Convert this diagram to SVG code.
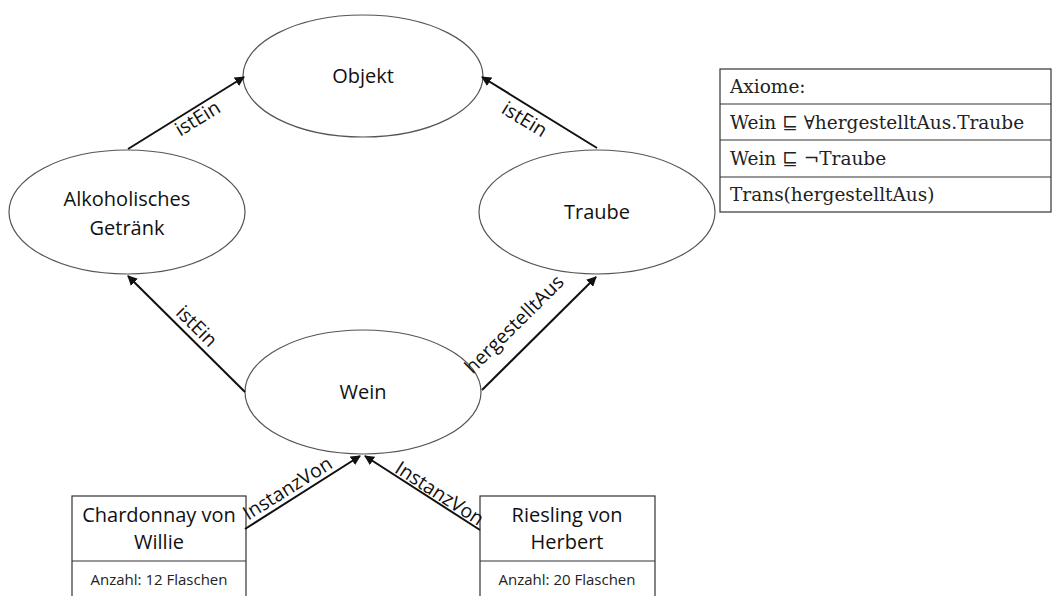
<svg xmlns="http://www.w3.org/2000/svg" width="1052" height="596" viewBox="0 0 1052 596">
<defs>
<style>
.node ellipse{fill:#fff;stroke:#555;stroke-width:1.2}
.lbl{font-family:"Open Sans","Liberation Sans",sans-serif;font-size:20px;fill:#111;text-anchor:middle}
.elbl{font-family:"Open Sans","Liberation Sans",sans-serif;font-size:19.5px;fill:#111;text-anchor:middle}
.small{font-family:"Open Sans","Liberation Sans",sans-serif;font-size:15px;fill:#222;text-anchor:middle}
.ax{font-family:"DejaVu Serif","Liberation Serif",serif;font-size:18.5px;fill:#222}
.box{fill:#fff;stroke:#333;stroke-width:1.2}
#connectors line{stroke:#111;stroke-width:2;marker-end:url(#arr)}
</style>
<marker id="arr" viewBox="0 0 10 10" refX="9" refY="5" markerWidth="5" markerHeight="5" orient="auto" markerUnits="strokeWidth">
<path d="M0,0 L10,5 L0,10 z" fill="#111"/>
</marker>
</defs>
<rect width="1052" height="596" fill="#fff"/>

<g id="objekt" class="node">
<ellipse cx="363" cy="76" rx="120" ry="61"/>
<text class="lbl" x="363" y="83">Objekt</text>
</g>
<g id="alkohol" class="node">
<ellipse cx="127" cy="212" rx="118" ry="62"/>
<text class="lbl" x="127" y="206">Alkoholisches</text>
<text class="lbl" x="127" y="235">Getränk</text>
</g>
<g id="traube" class="node">
<ellipse cx="597" cy="212" rx="118" ry="62"/>
<text class="lbl" x="597" y="219">Traube</text>
</g>
<g id="wein" class="node">
<ellipse cx="363" cy="392" rx="118" ry="62"/>
<text class="lbl" x="363" y="399">Wein</text>
</g>

<g id="chardonnay">
<rect class="box" x="72" y="496" width="174" height="110"/>
<line x1="72" y1="561" x2="246" y2="561" stroke="#333" stroke-width="1.2"/>
<text class="lbl" x="159" y="522">Chardonnay von</text>
<text class="lbl" x="159" y="549">Willie</text>
<text class="small" x="159" y="585">Anzahl: 12 Flaschen</text>
</g>
<g id="riesling">
<rect class="box" x="480" y="496" width="175" height="110"/>
<line x1="480" y1="561" x2="655" y2="561" stroke="#333" stroke-width="1.2"/>
<text class="lbl" x="567" y="522">Riesling von</text>
<text class="lbl" x="567" y="549">Herbert</text>
<text class="small" x="567" y="585">Anzahl: 20 Flaschen</text>
</g>

<g id="axiome">
<rect class="box" x="720" y="69" width="331" height="143"/>
<line x1="720" y1="104" x2="1051" y2="104" stroke="#333" stroke-width="1.2"/>
<line x1="720" y1="140" x2="1051" y2="140" stroke="#333" stroke-width="1.2"/>
<line x1="720" y1="177" x2="1051" y2="177" stroke="#333" stroke-width="1.2"/>
<text class="ax" x="730" y="93">Axiome:</text>
<text class="ax" x="730" y="129">Wein ⊑ ∀hergestelltAus.Traube</text>
<text class="ax" x="730" y="165">Wein ⊑ ¬Traube</text>
<text class="ax" x="730" y="201">Trans(hergestelltAus)</text>
</g>

<g id="connectors">
<line x1="128" y1="149" x2="244" y2="77"/>
<line x1="597" y1="148" x2="482" y2="77"/>
<line x1="245" y1="392" x2="128" y2="276"/>
<line x1="482" y1="390" x2="596" y2="277"/>
<line x1="245" y1="529" x2="360" y2="456"/>
<line x1="480" y1="530" x2="365" y2="456"/>
<text class="elbl" transform="translate(201,124) rotate(-31.5)">istEin</text>
<text class="elbl" transform="translate(521,125) rotate(31.5)">istEin</text>
<text class="elbl" transform="translate(192,331) rotate(44.8)">istEin</text>
<text class="elbl" transform="translate(519,329) rotate(-44.7)">hergestelltAus</text>
<text class="elbl" transform="translate(291,494) rotate(-32)">InstanzVon</text>
<text class="elbl" transform="translate(436,499) rotate(32.8)">InstanzVon</text>
</g>
</svg>
